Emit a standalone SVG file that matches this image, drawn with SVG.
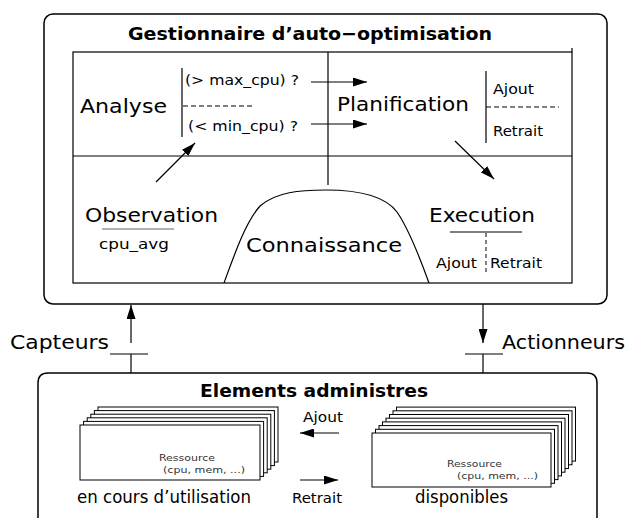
<svg xmlns="http://www.w3.org/2000/svg" width="633" height="518" viewBox="0 0 633 518">
<defs>
<style>
text{font-family:"DejaVu Sans","Liberation Sans",sans-serif;fill:#000}
.big{font-size:20px}
.sm{font-size:14px}
.md{font-size:17px}
.xs{font-size:9.5px;fill:#333}
.bold{font-size:18px;font-weight:bold}
.ln{stroke:#000;stroke-width:1.2;fill:none}
.dash{stroke:#000;stroke-width:1;stroke-dasharray:5,3;fill:none}
.box{stroke:#000;stroke-width:1.5;fill:#fff}
.card{stroke:#000;stroke-width:1;fill:#fff}
</style>
<marker id="ah" markerUnits="userSpaceOnUse" markerWidth="15" markerHeight="9" refX="14" refY="4.5" orient="auto">
<path d="M0,0 L14,4.5 L0,9 z" fill="#000"/>
</marker>
</defs>
<rect width="633" height="518" fill="#fff"/>

<g id="gestionnaire">
<rect class="box" x="44" y="14" width="563" height="290" rx="9"/>
<text class="bold" x="128" y="40" textLength="364" lengthAdjust="spacingAndGlyphs">Gestionnaire d’auto−optimisation</text>
<rect class="ln" x="73" y="52" width="499" height="231"/>
<line class="ln" x1="572" y1="48" x2="572" y2="52"/>
<line class="ln" x1="73" y1="156" x2="572" y2="156"/>
<line class="ln" x1="328" y1="52" x2="328" y2="185"/>
</g>

<g id="analyse">
<text class="big" x="80" y="113" textLength="87" lengthAdjust="spacingAndGlyphs">Analyse</text>
<line class="ln" x1="182" y1="68" x2="182" y2="137"/>
<text class="sm" x="185" y="85" textLength="114" lengthAdjust="spacingAndGlyphs">(&gt; max_cpu) ?</text>
<line class="dash" x1="183" y1="106" x2="254" y2="106"/>
<text class="sm" x="188" y="131" textLength="110" lengthAdjust="spacingAndGlyphs">(&lt; min_cpu) ?</text>
</g>

<g id="planification">
<text class="big" x="337" y="111" textLength="132" lengthAdjust="spacingAndGlyphs">Planification</text>
<line class="ln" x1="486" y1="71" x2="486" y2="143"/>
<text class="sm" x="493" y="94" textLength="41" lengthAdjust="spacingAndGlyphs">Ajout</text>
<line class="dash" x1="486" y1="107" x2="559" y2="107"/>
<text class="sm" x="493" y="136" textLength="50" lengthAdjust="spacingAndGlyphs">Retrait</text>
</g>

<g id="observation">
<text class="big" x="85" y="222" textLength="133" lengthAdjust="spacingAndGlyphs">Observation</text>
<line x1="102" y1="229" x2="174" y2="229" stroke="#666" stroke-width="1.2"/>
<text class="sm" x="99" y="249" textLength="70" lengthAdjust="spacingAndGlyphs">cpu_avg</text>
</g>

<g id="connaissance">
<path class="ln" d="M224,283 C236,250 246,222 260,206 C276,192 300,190 326,190 C360,190 385,196 397,212 C408,228 420,258 429,283"/>
<text class="big" x="246" y="252" textLength="156" lengthAdjust="spacingAndGlyphs">Connaissance</text>
</g>

<g id="execution">
<text class="big" x="429" y="222" textLength="106" lengthAdjust="spacingAndGlyphs">Execution</text>
<line class="ln" x1="450" y1="232" x2="522" y2="232"/>
<line x1="486" y1="233" x2="486" y2="272" stroke="#000" stroke-width="1" stroke-dasharray="4,3"/>
<text class="sm" x="436" y="268" textLength="41" lengthAdjust="spacingAndGlyphs">Ajout</text>
<text class="sm" x="490" y="268" textLength="52" lengthAdjust="spacingAndGlyphs">Retrait</text>
</g>

<g id="elements">
<path class="box" d="M38,520 L38,383 Q38,373 48,373 L587,373 Q597,373 597,383 L597,520"/>
<text class="bold" x="200" y="397" textLength="228" lengthAdjust="spacingAndGlyphs">Elements administres</text>
<text class="md" x="77" y="503" textLength="174" lengthAdjust="spacingAndGlyphs">en cours d’utilisation</text>
<text class="md" x="415" y="503" textLength="93" lengthAdjust="spacingAndGlyphs">disponibles</text>
<text class="sm" x="303" y="422" textLength="40" lengthAdjust="spacingAndGlyphs">Ajout</text>
<text class="sm" x="292" y="503" textLength="50" lengthAdjust="spacingAndGlyphs">Retrait</text>
</g>

<g id="ressources-en-cours">
<rect class="card" x="98" y="407" width="180" height="55"/>
<rect class="card" x="94.4" y="410.6" width="180" height="55"/>
<rect class="card" x="90.8" y="414.2" width="180" height="55"/>
<rect class="card" x="87.2" y="417.8" width="180" height="55"/>
<rect class="card" x="83.6" y="421.4" width="180" height="55"/>
<rect class="card" x="80" y="425" width="180" height="55"/>
<text class="xs" x="159" y="461" textLength="56" lengthAdjust="spacingAndGlyphs">Ressource</text>
<text class="xs" x="163" y="473" textLength="82" lengthAdjust="spacingAndGlyphs">(cpu, mem, ...)</text>
</g>

<g id="ressources-disponibles">
<rect class="card" x="396.5" y="407.1" width="179" height="54"/>
<rect class="card" x="393" y="410.8" width="179" height="54"/>
<rect class="card" x="389.5" y="414.5" width="179" height="54"/>
<rect class="card" x="386" y="418.2" width="179" height="54"/>
<rect class="card" x="382.5" y="421.9" width="179" height="54"/>
<rect class="card" x="379" y="425.6" width="179" height="54"/>
<rect class="card" x="375.5" y="429.3" width="179" height="54"/>
<rect class="card" x="372" y="433" width="179" height="54"/>
<text class="xs" x="447" y="467" textLength="55" lengthAdjust="spacingAndGlyphs">Ressource</text>
<text class="xs" x="457" y="479" textLength="81" lengthAdjust="spacingAndGlyphs">(cpu, mem, ...)</text>
</g>

<g id="capteurs">
<text class="big" x="10" y="349" textLength="99" lengthAdjust="spacingAndGlyphs">Capteurs</text>
<line class="ln" x1="110" y1="354" x2="148" y2="354"/>
<line class="ln" x1="131" y1="354" x2="131" y2="373"/>
</g>

<g id="actionneurs">
<text class="big" x="502" y="349" textLength="123" lengthAdjust="spacingAndGlyphs">Actionneurs</text>
<line class="ln" x1="465" y1="354" x2="503" y2="354"/>
<line class="ln" x1="483" y1="354" x2="483" y2="373"/>
</g>

<g id="connectors">
<line class="ln" x1="311" y1="82" x2="367" y2="82" marker-end="url(#ah)"/>
<line class="ln" x1="311" y1="124" x2="367" y2="124" marker-end="url(#ah)"/>
<line class="ln" x1="156" y1="182" x2="195" y2="143" marker-end="url(#ah)"/>
<line class="ln" x1="455" y1="141" x2="494" y2="179" marker-end="url(#ah)"/>
<line class="ln" x1="131" y1="343" x2="131" y2="305" marker-end="url(#ah)"/>
<line class="ln" x1="483" y1="304" x2="483" y2="343" marker-end="url(#ah)"/>
<line class="ln" x1="339" y1="433" x2="300" y2="433" marker-end="url(#ah)"/>
<line class="ln" x1="300" y1="480" x2="338" y2="480" marker-end="url(#ah)"/>
</g>
</svg>
